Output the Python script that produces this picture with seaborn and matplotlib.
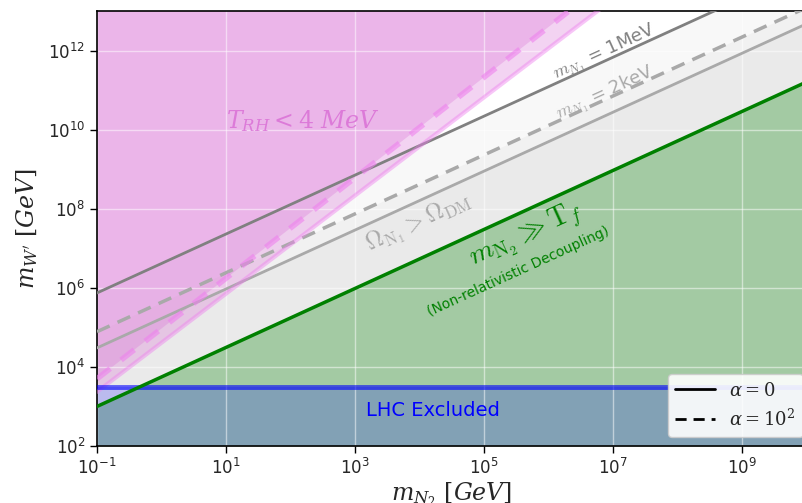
import matplotlib
matplotlib.use("Agg")
import matplotlib.pyplot as plt
import numpy as np
import pandas as pd
import seaborn as sns

# values (log-log straight lines, endpoints at x=1e-1 and x=1e10)
x_mn2 = [1e-1, 1e10]
green_tf = [10**3.00, 10**11.20]          # m_N2 >> T_f
gray_1mev = [10**5.87, 10**14.06]         # m_N1 = 1MeV, alpha = 0
gray_2kev = [10**4.48, 10**12.67]         # m_N1 = 2keV, alpha = 0
gray_2kev_dash = [10**4.89, 10**13.08]    # m_N1 = 2keV, alpha = 1e2
pink_trh = [10**3.37, 10**17.01]          # T_RH < 4 MeV, alpha = 0
pink_trh_dash = [10**3.70, 10**17.67]     # T_RH < 4 MeV, alpha = 1e2
lhc_bound = [3.1e3, 3.1e3]

xticks = [1e-1, 1e1, 1e3, 1e5, 1e7, 1e9]
yticks = [1e2, 1e4, 1e6, 1e8, 1e10, 1e12]

floor = [1e2, 1e2]
ceil = [1e18, 1e18]

sns.set_style("white")
plt.rcParams['font.family'] = ['DejaVu Sans']
plt.rcParams['mathtext.fontset'] = 'dejavuserif'

fig = plt.figure(figsize=(8.02, 5.03), dpi=100)
ax = fig.add_axes([97/802, 57/503, 709/802, 435/503])
ax.set_xscale('log')
ax.set_yscale('log')

# shaded regions
ax.fill_between(x_mn2, floor, gray_1mev, color='gray', alpha=0.055, lw=0, zorder=1)
ax.fill_between(x_mn2, floor, gray_2kev_dash, color='gray', alpha=0.055, lw=0, zorder=1)
ax.fill_between(x_mn2, floor, gray_2kev, color='gray', alpha=0.055, lw=0, zorder=1)
ax.fill_between(x_mn2, floor, green_tf, color='green', alpha=0.3, lw=0, zorder=1)
ax.fill_between(x_mn2, pink_trh, ceil, color='orchid', alpha=0.3, lw=0, zorder=1)
ax.fill_between(x_mn2, pink_trh_dash, ceil, color='orchid', alpha=0.3, lw=0, zorder=1)
ax.fill_between(x_mn2, floor, lhc_bound, color='blue', alpha=0.2, lw=0, zorder=1)

# boundary lines
df = pd.DataFrame({'x': x_mn2, 'green': green_tf, 'mev': gray_1mev,
                   'kev': gray_2kev, 'kev_d': gray_2kev_dash,
                   'trh': pink_trh, 'trh_d': pink_trh_dash, 'lhc': lhc_bound})
sns.lineplot(data=df, x='x', y='mev', color='gray', lw=2, ax=ax, zorder=3)
sns.lineplot(data=df, x='x', y='kev', color='darkgray', lw=2, ax=ax, zorder=3)
sns.lineplot(data=df, x='x', y='kev_d', color='darkgray', lw=2.5, ls=(0, (4, 2.5)), ax=ax, zorder=3)
sns.lineplot(data=df, x='x', y='trh', color='violet', lw=3, alpha=0.45, ax=ax, zorder=3)
sns.lineplot(data=df, x='x', y='trh_d', color='violet', lw=4, alpha=0.6, ls=(0, (3, 2.5)), ax=ax, zorder=3)
sns.lineplot(data=df, x='x', y='lhc', color='blue', lw=3.5, alpha=0.6, ax=ax, zorder=3)
sns.lineplot(data=df, x='x', y='green', color='green', lw=2.5, ax=ax, zorder=4)

# legend handles
ax.plot([], [], color='black', lw=2, label=r'$\alpha = 0$')
ax.plot([], [], color='black', lw=2, ls=(0, (4, 2.5)), label=r'$\alpha = 10^2$')
leg = ax.legend(loc='lower right', fontsize=13, framealpha=0.9, handlelength=2.2,
                bbox_to_anchor=(1.008, 0.0))
leg.set_zorder(10)

ax.set_xlim(1e-1, 1e10)
ax.set_ylim(1e2, 1e13)
ax.set_xticks(xticks)
ax.set_yticks(yticks)
ax.xaxis.set_minor_locator(matplotlib.ticker.NullLocator())
ax.yaxis.set_minor_locator(matplotlib.ticker.NullLocator())
ax.tick_params(axis='both', which='major', labelsize=12, direction='out', length=5,
               width=1, bottom=True, left=True, color='black')
ax.set_axisbelow('line')
ax.grid(True, color='white', lw=1, alpha=0.5)
for s in ax.spines.values():
    s.set_color('black')
    s.set_linewidth(1.2)

ax.set_xlabel(r"$m_{N_2}\ [GeV]$", fontsize=17, labelpad=2)
ax.set_ylabel(r"$m_{W'}\ [GeV]$", fontsize=17, labelpad=6)

# annotations
ang = 24.5
ax.text(0.291, 0.747, r'$T_{RH} < 4\ MeV$', transform=ax.transAxes, fontsize=17,
        color='orchid', alpha=0.85, ha='center', va='center')
ax.text(0.717, 0.903, r'$m_{N_1}$ = 1MeV', transform=ax.transAxes, fontsize=13,
        color='gray', rotation=ang, ha='center', va='center', math_fontfamily='cm')
ax.text(0.717, 0.810, r'$m_{N_1}$ = 2keV', transform=ax.transAxes, fontsize=13,
        color='darkgray', rotation=ang, ha='center', va='center', math_fontfamily='cm')
ax.text(0.453, 0.515, r'$\Omega_{\rm N_1} > \Omega_{\rm DM}$', transform=ax.transAxes,
        fontsize=17, color='darkgray', rotation=ang, ha='center', va='center',
        math_fontfamily='cm')
ax.text(0.606, 0.483, r'$m_{\rm N_2} \gg {\rm T}_f$', transform=ax.transAxes,
        fontsize=20, color='green', rotation=ang, ha='center', va='center',
        math_fontfamily='cm')
ax.text(0.594, 0.400, '(Non-relativistic Decoupling)', transform=ax.transAxes,
        fontsize=10, color='green', rotation=ang, ha='center', va='center')
ax.text(0.474, 0.082, 'LHC Excluded', transform=ax.transAxes, fontsize=14,
        color='blue', ha='center', va='center')

fig.savefig('out.png', dpi=100)
